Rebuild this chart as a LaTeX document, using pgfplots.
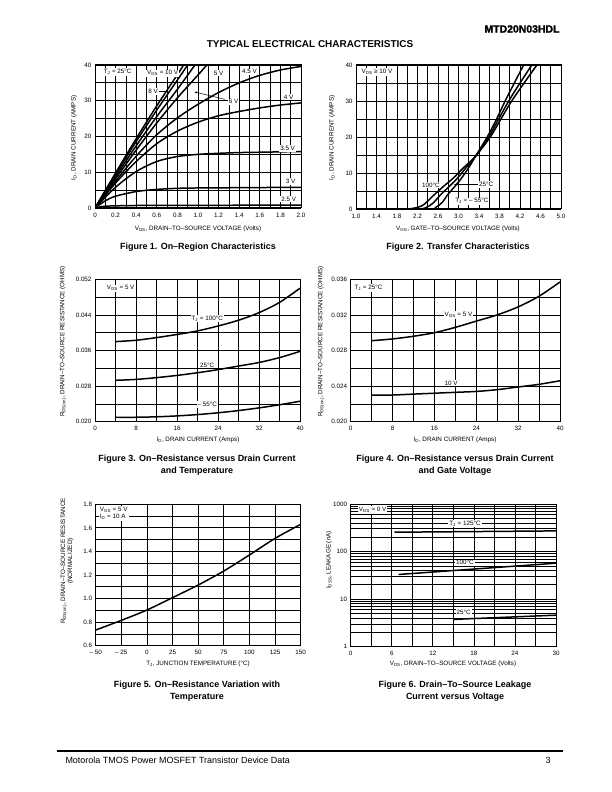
\documentclass[border=0pt]{standalone}
\usepackage{fontspec}
\setmainfont{Liberation Sans}
\newfontfamily\heavyfont[FakeBold=2]{Liberation Sans Bold}
\usepackage{pgfplots}
\pgfplotsset{compat=1.18}
\usetikzlibrary{arrows.meta}
\newcommand\sm{\fontsize{6.3}{7}\selectfont}
\newcommand\figcap{\fontsize{9}{11}\selectfont\bfseries}
\pgfplotsset{
  ds/.style={
    scale only axis,
    anchor=south west,
    axis line style={black,line width=1pt},
    grid=both,
    major grid style={black,line width=0.75pt},
    minor grid style={black,line width=0.75pt},
    major tick length=0pt, minor tick length=0pt,
    tick label style={font=\sm, black},
    xticklabel style={yshift=-1.2bp},
    scaled ticks=false,
    every axis plot/.append style={black,line width=1.5pt,no markers},
  },
}
\tikzset{lab/.style={fill=white, inner sep=1pt, font=\sm}}
\begin{document}
\begin{tikzpicture}
\useasboundingbox (0,0) rectangle (612bp,792bp);
\fill[white] (0,0) rectangle (612bp,792bp);

% ---------- header ----------
\node[anchor=east, font=\fontsize{10.5}{12}\heavyfont] at (563bp,763bp) {MTD20N03HDL};
\node[font=\fontsize{10}{12}\selectfont\bfseries] at (310bp,748bp) {TYPICAL ELECTRICAL CHARACTERISTICS};

% ---------- Figure 1 ----------
\begin{axis}[ds, at={(95bp,584bp)}, width=206bp, height=143bp,
  xmin=0, xmax=2, ymin=0, ymax=40,
  xtick={0,0.2,0.4,0.6,0.8,1.0,1.2,1.4,1.6,1.8,2.0},
  xticklabels={0,0.2,0.4,0.6,0.8,1.0,1.2,1.4,1.6,1.8,2.0},
  minor xtick={0.1,0.3,0.5,0.7,0.9,1.1,1.3,1.5,1.7,1.9},
  ytick={0,10,20,30,40}, yticklabels={0,10,20,30,40},
  minor ytick={5,15,25,35}]
\addplot[smooth] coordinates {(0,0)(0.2,9.8)(0.4,19.4)(0.6,28.6)(0.8,37.3)(0.86,40)};
\addplot[smooth] coordinates {(0,0)(0.2,9.4)(0.4,18.6)(0.6,27.4)(0.8,35.8)(0.9,40)};
\addplot[smooth] coordinates {(0,0)(0.2,8.8)(0.4,17.4)(0.6,25.6)(0.8,33.2)(0.97,40)};
\addplot[smooth] coordinates {(0,0)(0.2,8.2)(0.4,16.2)(0.6,23.8)(0.8,30.8)(1.0,37.2)(1.086,40)};
\addplot[smooth] coordinates {(0,0)(0.2,7.5)(0.4,14.5)(0.6,20.5)(0.8,25.2)(1.0,29)(1.2,32.3)(1.4,35)(1.6,37.1)(1.8,38.6)(2.0,39.6)};
\addplot[smooth] coordinates {(0,0)(0.2,7)(0.4,13)(0.6,18)(0.8,21.5)(1.0,24)(1.2,25.8)(1.4,27)(1.6,28)(1.8,28.8)(2.0,29.4)};
\addplot[smooth] coordinates {(0,0)(0.2,5.8)(0.4,10.2)(0.6,13)(0.8,14.4)(1.0,15)(1.2,15.3)(1.4,15.5)(1.6,15.6)(1.8,15.7)(2.0,15.8)};
\addplot[smooth] coordinates {(0,0)(0.1,2)(0.2,3.3)(0.4,4.6)(0.6,5.2)(0.8,5.5)(1.0,5.6)(1.5,5.7)(2.0,5.8)};
\addplot[smooth] coordinates {(0,0)(0.05,0.3)(0.1,0.5)(0.2,0.6)(0.4,0.7)(1.0,0.75)(2.0,0.8)};
\node[lab] at (axis cs:0.22,38) {T\textsubscript{J} = 25°C};
\node[lab] at (axis cs:0.656,37.7) {V\textsubscript{GS} = 10 V};
\node[lab] at (axis cs:1.2,37.7) {5 V};
\node[lab] at (axis cs:1.5,38.1) {4.5 V};
\node[lab] at (axis cs:1.88,31) {4 V};
\node[lab] at (axis cs:1.87,16.7) {3.5 V};
\node[lab] at (axis cs:1.9,7.4) {3 V};
\node[lab] at (axis cs:1.88,2.5) {2.5 V};
\node[lab] at (axis cs:0.565,32.6) {8 V};
\draw[-{Latex[length=3pt,width=2pt]}, line width=0.5pt] (axis cs:0.62,32.6) -- (axis cs:0.72,32.6);
\node[lab] at (axis cs:1.345,29.7) {6 V};
\draw[-{Latex[length=3pt,width=2pt]}, line width=0.5pt] (axis cs:1.26,30.4) -- (axis cs:0.96,32.5);
\end{axis}
\node[font=\sm] at (198bp,563.5bp) {V\textsubscript{DS}, DRAIN–TO–SOURCE VOLTAGE (Volts)};
\node[font=\sm, rotate=90] at (74bp,654bp) {I\textsubscript{D}, DRAIN CURRENT (AMPS)};
\node[font=\figcap] at (198bp,545bp) {Figure 1. On–Region Characteristics};

% ---------- Figure 2 ----------
\begin{axis}[ds, at={(356bp,583bp)}, width=205bp, height=144bp,
  xmin=1, xmax=5, ymin=0, ymax=40,
  xtick={1.0,1.4,1.8,2.2,2.6,3.0,3.4,3.8,4.2,4.6,5.0},
  xticklabels={1.0,1.4,1.8,2.2,2.6,3.0,3.4,3.8,4.2,4.6,5.0},
  minor xtick={1.2,1.6,2.0,2.4,2.8,3.2,3.6,4.0,4.4,4.8},
  ytick={0,10,20,30,40}, yticklabels={0,10,20,30,40},
  minor ytick={5,15,25,35}]
\addplot[smooth] coordinates {(1.0,0)(1.9,0)(2.1,0.15)(2.3,1.0)(2.5,3.6)(2.7,6.2)(2.9,8.6)(3.1,11.5)(3.33,14.6)(3.62,20)(3.82,24.8)(4.02,29.6)(4.28,35)(4.53,40)};
\addplot[smooth] coordinates {(1.0,0)(2.15,0)(2.35,0.3)(2.5,1.6)(2.64,3.8)(2.8,6.0)(2.97,8.4)(3.15,11.5)(3.33,14.6)(3.59,20)(3.78,24.9)(3.98,30)(4.2,35)(4.43,40)};
\addplot[smooth] coordinates {(1.0,0)(2.4,0)(2.55,0.4)(2.68,1.8)(2.78,3.8)(2.9,5.8)(3.05,8.4)(3.2,11.5)(3.33,14.6)(3.56,20)(3.74,24.9)(3.91,30)(4.09,35)(4.27,40)};
\node[lab] at (axis cs:1.41,38) {V\textsubscript{DS} ≥ 10 V};
\node[lab] at (axis cs:2.46,6.7) {100°C};
\node[lab] at (axis cs:3.54,6.75) {25°C};
\draw[-{Latex[length=3pt,width=2pt]}, line width=0.5pt] (axis cs:3.38,6.75) -- (axis cs:2.9,6.75);
\node[lab] at (axis cs:3.26,2.14) {T\textsubscript{J} = – 55°C};
\end{axis}
\node[font=\sm] at (458bp,563.5bp) {V\textsubscript{GS}, GATE–TO–SOURCE VOLTAGE (Volts)};
\node[font=\sm, rotate=90] at (332bp,654bp) {I\textsubscript{D}, DRAIN CURRENT (AMPS)};
\node[font=\figcap] at (458bp,545bp) {Figure 2. Transfer Characteristics};

% ---------- Figure 3 ----------
\begin{axis}[ds, at={(95bp,370.3bp)}, width=205bp, height=142.4bp,
  xmin=0, xmax=40, ymin=0.020, ymax=0.052,
  xtick={0,8,16,24,32,40}, xticklabels={0,8,16,24,32,40},
  minor xtick={4,12,20,28,36},
  ytick={0.020,0.028,0.036,0.044,0.052},
  yticklabels={0.020,0.028,0.036,0.044,0.052},
  minor ytick={0.024,0.032,0.040,0.048}]
\addplot[smooth] coordinates {(4,0.0380)(8,0.0383)(12,0.0389)(16,0.0396)(20,0.0404)(24,0.0415)(28,0.0428)(32,0.0445)(36,0.0468)(40,0.0500)};
\addplot[smooth] coordinates {(4,0.0293)(8,0.0295)(12,0.0299)(16,0.0304)(20,0.0310)(24,0.0317)(28,0.0325)(32,0.0333)(36,0.0344)(40,0.0358)};
\addplot[smooth] coordinates {(4,0.0210)(8,0.0210)(12,0.0211)(16,0.0213)(20,0.0216)(24,0.0220)(28,0.0225)(32,0.0231)(36,0.0238)(40,0.0246)};
\node[lab] at (axis cs:5,0.0500) {V\textsubscript{GS} = 5 V};
\node[lab] at (axis cs:21.9,0.0432) {T\textsubscript{J} = 100°C};
\node[lab] at (axis cs:21.9,0.0327) {25°C};
\node[lab] at (axis cs:21.9,0.0239) {– 55°C};
\end{axis}
\node[font=\sm] at (198bp,352bp) {I\textsubscript{D}, DRAIN CURRENT (Amps)};
\node[font=\sm, rotate=90] at (63bp,450.5bp) {R\textsubscript{DS(on)}, DRAIN–TO–SOURCE RESISTANCE (OHMS)};
\node[font=\figcap] at (197bp,333bp) {Figure 3. On–Resistance versus Drain Current};
\node[font=\figcap] at (197bp,321bp) {and Temperature};

% ---------- Figure 4 ----------
\begin{axis}[ds, at={(350.7bp,370.3bp)}, width=209.3bp, height=142.4bp,
  xmin=0, xmax=40, ymin=0.020, ymax=0.036,
  xtick={0,8,16,24,32,40}, xticklabels={0,8,16,24,32,40},
  minor xtick={4,12,20,28,36},
  ytick={0.020,0.024,0.028,0.032,0.036},
  yticklabels={0.020,0.024,0.028,0.032,0.036},
  minor ytick={0.022,0.026,0.030,0.034}]
\addplot[smooth] coordinates {(4,0.0291)(8,0.0293)(12,0.0296)(16,0.0300)(20,0.0306)(24,0.0313)(28,0.0320)(32,0.0329)(36,0.0341)(40,0.0357)};
\addplot[smooth] coordinates {(4,0.0230)(8,0.0230)(12,0.0231)(16,0.0232)(20,0.0233)(24,0.0234)(28,0.0236)(32,0.0239)(36,0.0242)(40,0.0246)};
\node[lab] at (axis cs:3.4,0.0350) {T\textsubscript{J} = 25°C};
\node[lab] at (axis cs:20.6,0.0320) {V\textsubscript{GS} = 5 V};
\node[lab] at (axis cs:19.2,0.02435) {10 V};
\end{axis}
\node[font=\sm] at (455bp,352bp) {I\textsubscript{D}, DRAIN CURRENT (Amps)};
\node[font=\sm, rotate=90] at (321bp,450.5bp) {R\textsubscript{DS(on)}, DRAIN–TO–SOURCE RESISTANCE (OHMS)};
\node[font=\figcap] at (455bp,333bp) {Figure 4. On–Resistance versus Drain Current};
\node[font=\figcap] at (455bp,321bp) {and Gate Voltage};

% ---------- Figure 5 ----------
\begin{axis}[ds, at={(95.7bp,146.3bp)}, width=205bp, height=141.4bp,
  xmin=-50, xmax=150, ymin=0.6, ymax=1.8,
  xtick={-50,-25,0,25,50,75,100,125,150},
  xticklabels={– 50,– 25,0,25,50,75,100,125,150},
  ytick={0.6,0.8,1.0,1.2,1.4,1.6,1.8},
  yticklabels={0.6,0.8,1.0,1.2,1.4,1.6,1.8},
  minor ytick={0.7,0.9,1.1,1.3,1.5,1.7}]
\addplot[smooth] coordinates {(-50,0.733)(-25,0.815)(0,0.903)(25,1.008)(50,1.115)(75,1.234)(100,1.370)(125,1.511)(150,1.630)};
\node[lab, align=left, anchor=north west] at (axis cs:-47,1.785) {V\textsubscript{GS} = 5 V\\I\textsubscript{D} = 10 A};
\end{axis}
\node[font=\sm] at (198bp,128bp) {T\textsubscript{J}, JUNCTION TEMPERATURE (°C)};
\node[font=\sm, rotate=90, align=center] at (67bp,231bp) {R\textsubscript{DS(on)}, DRAIN–TO–SOURCE RESISTANCE\\(NORMALIZED)};
\node[font=\figcap] at (197bp,107bp) {Figure 5. On–Resistance Variation with};
\node[font=\figcap] at (197bp,95bp) {Temperature};

% ---------- Figure 6 ----------
\begin{axis}[ds, at={(350.7bp,145.3bp)}, width=205.3bp, height=142.7bp,
  ymode=log, xmin=0, xmax=30, ymin=1, ymax=1000,
  xtick={0,6,12,18,24,30}, xticklabels={0,6,12,18,24,30},
  minor xtick={3,9,15,21,27},
  ytick={1,10,100,1000}, yticklabels={1,10,100,1000},
  minor ytick={2,3,4,5,6,7,8,9,20,30,40,50,60,70,80,90,200,300,400,500,600,700,800,900}]
\addplot[sharp plot] coordinates {(6.4,255)(30,272)};
\addplot[sharp plot] coordinates {(7,33)(30,57)};
\addplot[sharp plot] coordinates {(15,3.75)(30,4.6)};
\node[lab] at (axis cs:3.2,748) {V\textsubscript{GS} = 0 V};
\node[lab] at (axis cs:16.7,392) {T\textsubscript{J} = 125°C};
\node[lab] at (axis cs:16.7,58) {100°C};
\node[lab] at (axis cs:16.5,5.3) {25°C};
\end{axis}
\node[font=\sm] at (453bp,128bp) {V\textsubscript{DS}, DRAIN–TO–SOURCE VOLTAGE (Volts)};
\node[font=\sm, rotate=90] at (329bp,232bp) {I\textsubscript{DSS}, LEAKAGE (nA)};
\node[font=\figcap] at (455bp,107bp) {Figure 6. Drain–To–Source Leakage};
\node[font=\figcap] at (455bp,95bp) {Current versus Voltage};

% ---------- footer ----------
\draw[line width=2pt] (57bp,41bp) -- (563bp,41bp);
\node[anchor=west, font=\fontsize{9}{11}\selectfont] at (62bp,32bp) {Motorola TMOS Power MOSFET Transistor Device Data};
\node[anchor=east, font=\fontsize{9}{11}\selectfont] at (554bp,32bp) {3};
\end{tikzpicture}
\end{document}
